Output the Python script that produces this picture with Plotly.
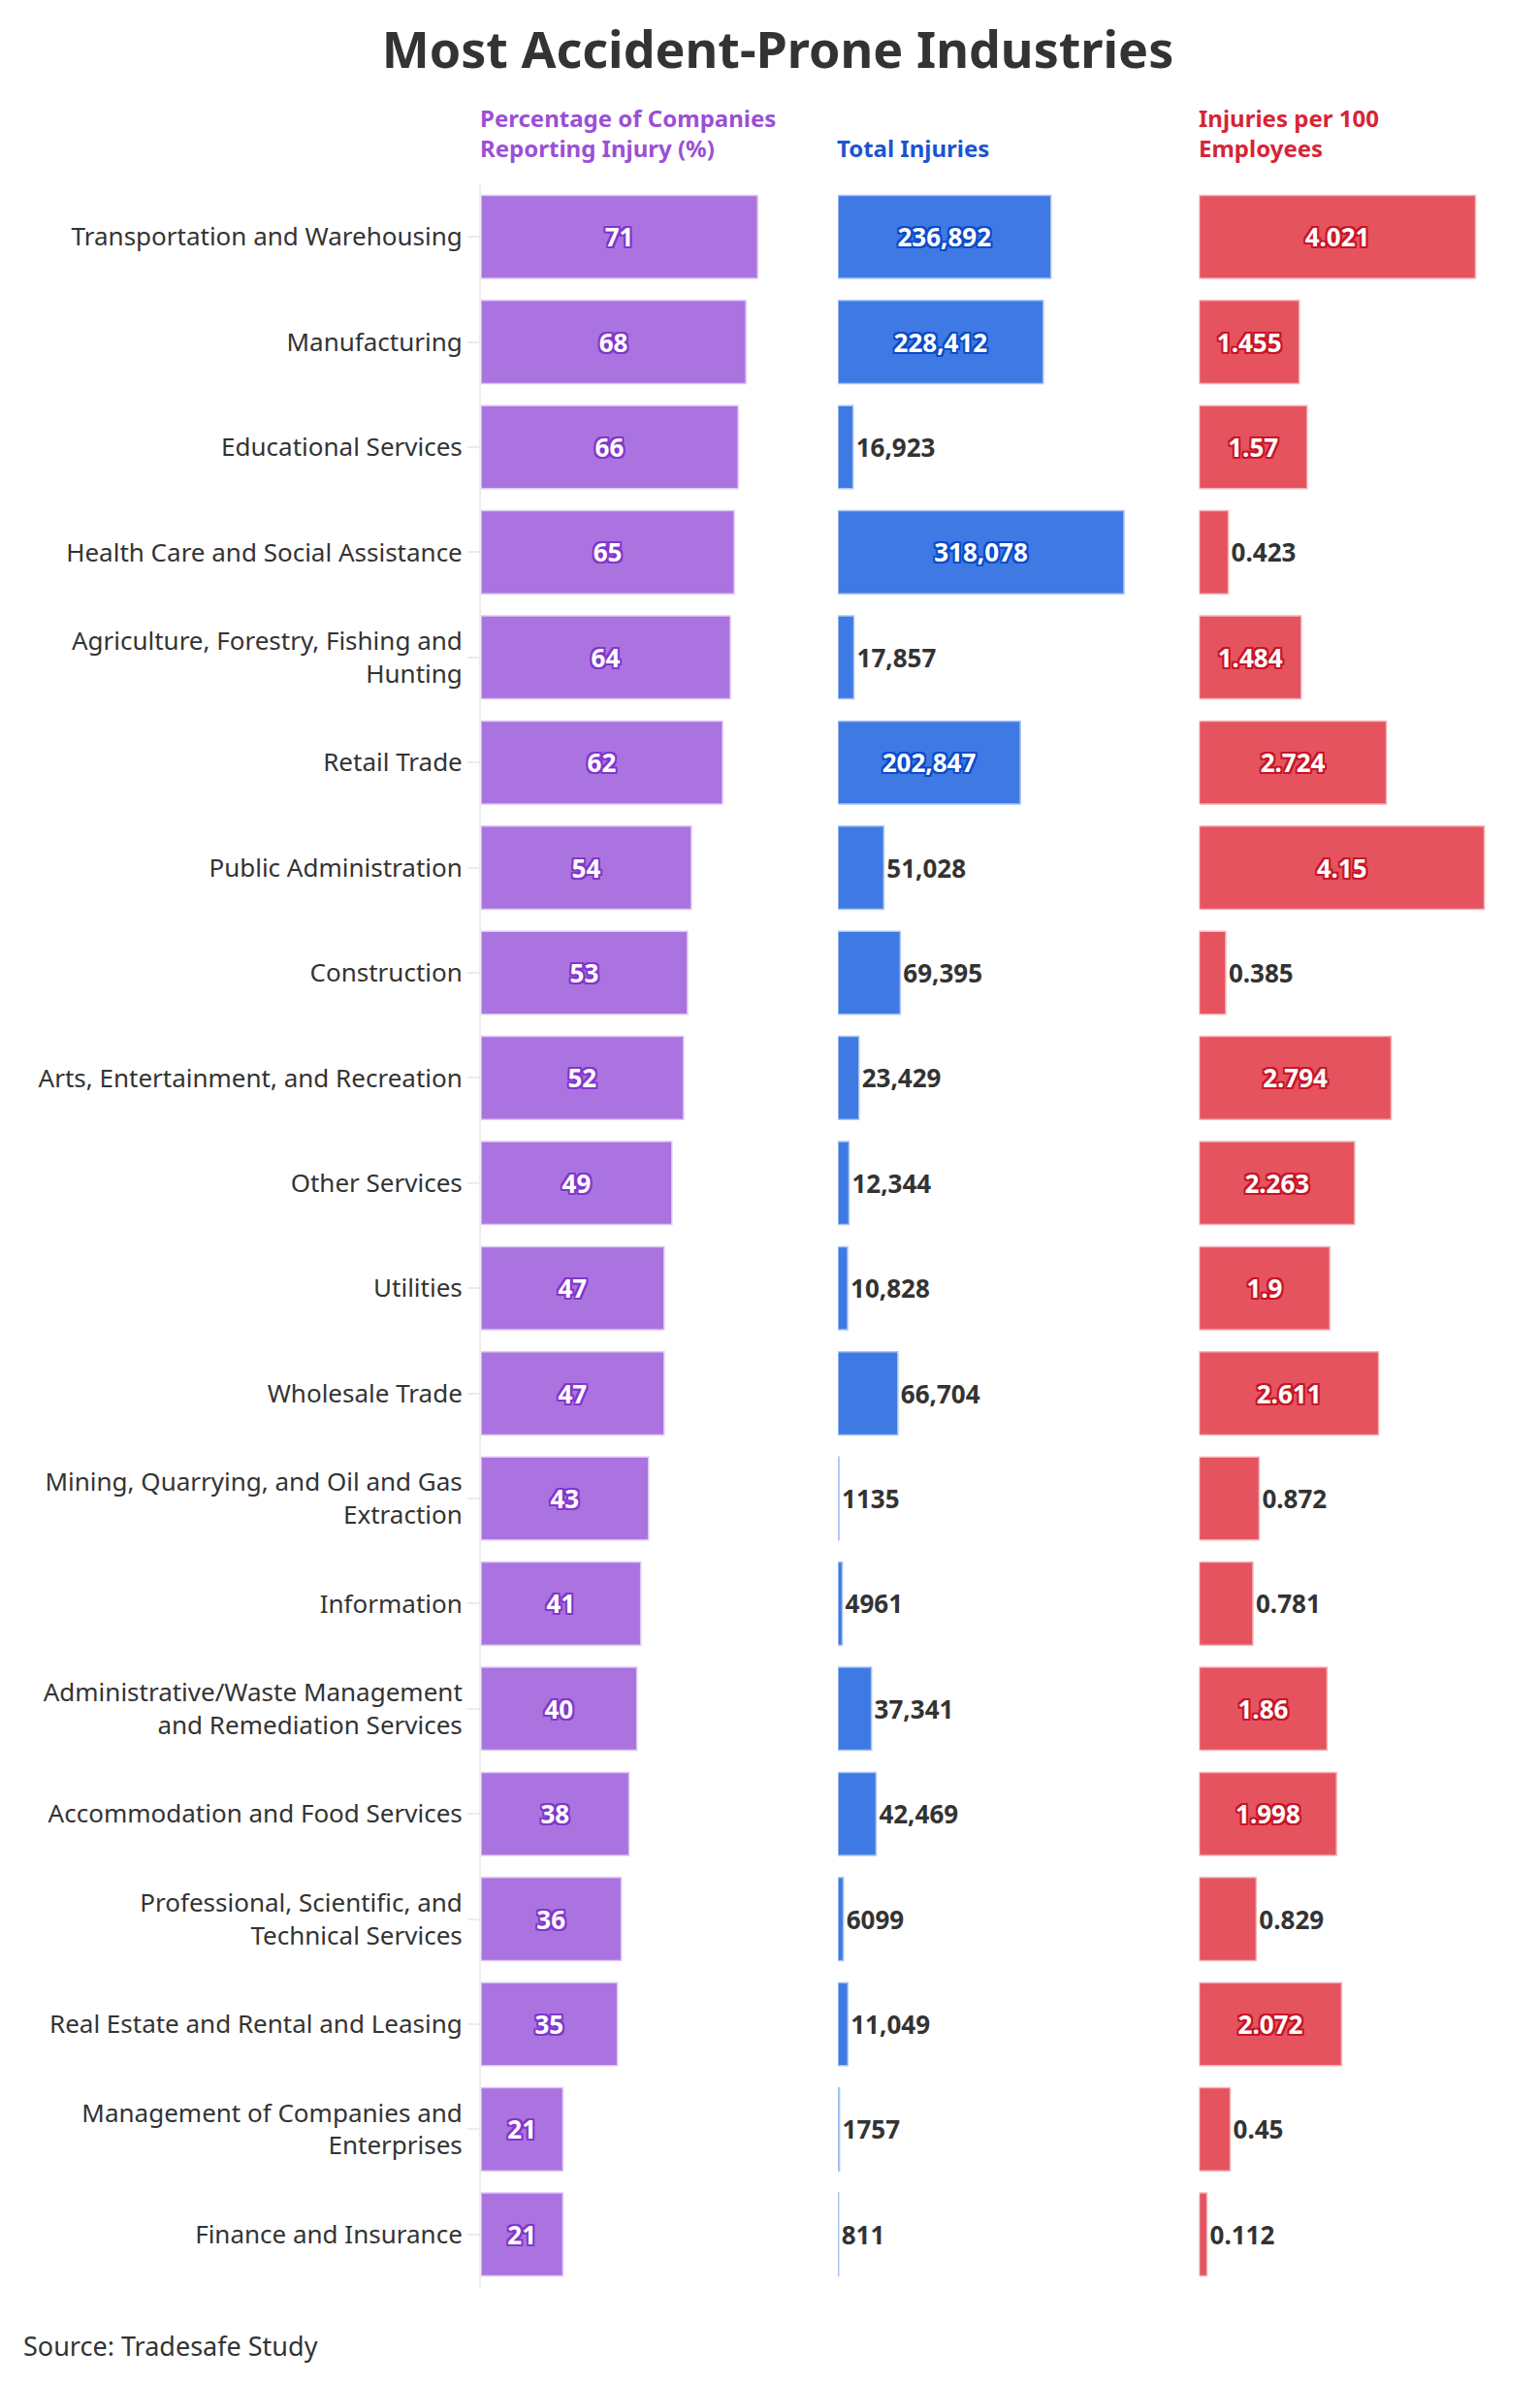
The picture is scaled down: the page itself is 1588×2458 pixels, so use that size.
import plotly.graph_objects as go

# data
industries = [
    "Transportation and Warehousing",
    "Manufacturing",
    "Educational Services",
    "Health Care and Social Assistance",
    "Agriculture, Forestry, Fishing and<br>Hunting",
    "Retail Trade",
    "Public Administration",
    "Construction",
    "Arts, Entertainment, and Recreation",
    "Other Services",
    "Utilities",
    "Wholesale Trade",
    "Mining, Quarrying, and Oil and Gas<br>Extraction",
    "Information",
    "Administrative/Waste Management<br>and Remediation Services",
    "Accommodation and Food Services",
    "Professional, Scientific, and<br>Technical Services",
    "Real Estate and Rental and Leasing",
    "Management of Companies and<br>Enterprises",
    "Finance and Insurance",
]
pct_reporting = [71, 68, 66, 65, 64, 62, 54, 53, 52, 49, 47, 47, 43, 41, 40, 38, 36, 35, 21, 21]
total_injuries = [236892, 228412, 16923, 318078, 17857, 202847, 51028, 69395, 23429, 12344,
                  10828, 66704, 1135, 4961, 37341, 42469, 6099, 11049, 1757, 811]
per_100 = [4.021, 1.455, 1.57, 0.423, 1.484, 2.724, 4.15, 0.385, 2.794, 2.263,
           1.9, 2.611, 0.872, 0.781, 1.86, 1.998, 0.829, 2.072, 0.45, 0.112]

headers = ["Percentage of Companies<br>Reporting Injury (%)", "Total Injuries",
           "Injuries per 100<br>Employees"]

FONT = "Noto Sans"
DARK = "#333333"
PANEL_PX = 300  # approx pixel width of each panel

# colours per panel: bar, bar edge, text outline, header
styles = [
    dict(bar="#ab73e0", edge="#dcc6f3", outline="#8236cc", head="#9b4fd6"),
    dict(bar="#3f79e4", edge="#aac5f3", outline="#0b4cc8", head="#1a55cf"),
    dict(bar="#e5535f", edge="#f4b3b8", outline="#c81525", head="#d62536"),
]

domains = [[0, 0.2896], [0.3552, 0.6448], [0.7149, 1.0]]
ranges = [[0, 74.7], [0, 323500], [0, 4.17]]


def fmt_injuries(v):
    return f"{v:,}" if v >= 10000 else str(v)


def outline(c):
    return (f"-2px -2px 0 {c}, 2px -2px 0 {c}, -2px 2px 0 {c}, 2px 2px 0 {c}, "
            f"0 2px 0 {c}, 0 -2px 0 {c}, 2px 0 0 {c}, -2px 0 0 {c}")


def text_positions(vals, labels, rng):
    # label goes inside only when the bar is long enough to hold it
    out = []
    for v, lab in zip(vals, labels):
        bar_px = v / rng[1] * PANEL_PX
        out.append("inside" if bar_px > len(lab) * 14 + 16 else "outside")
    return out


series = [
    (pct_reporting, [str(v) for v in pct_reporting], "x"),
    (total_injuries, [fmt_injuries(v) for v in total_injuries], "x2"),
    (per_100, [str(v) for v in per_100], "x3"),
]

fig = go.Figure()
for (vals, labels, xa), st, rng in zip(series, styles, ranges):
    fig.add_trace(go.Bar(
        x=vals, y=industries, orientation="h", xaxis=xa, yaxis="y",
        marker=dict(color=st["bar"], line=dict(color=st["edge"], width=1.5)),
        text=labels, textposition=text_positions(vals, labels, rng),
        insidetextanchor="middle", textangle=0,
        constraintext="none", cliponaxis=False,
        insidetextfont=dict(family=FONT, size=26, color="white", weight="bold",
                            shadow=outline(st["outline"])),
        outsidetextfont=dict(family=FONT, size=26, color=DARK, weight="bold"),
        showlegend=False,
    ))

hidden = dict(showticklabels=False, showgrid=False, zeroline=False, showline=False, ticks="")

fig.update_layout(
    width=1588, height=2458,
    paper_bgcolor="white", plot_bgcolor="white",
    margin=dict(l=488, r=64, t=182, b=108),
    bargap=0.21,
    font=dict(family=FONT, size=26, color=DARK),
    title=dict(text="<b>Most Accident-Prone Industries</b>", x=0.5, xanchor="center",
               y=0.982, yanchor="middle", font=dict(family=FONT, size=52, color=DARK)),
    xaxis=dict(domain=domains[0], range=ranges[0], anchor="y", **hidden),
    xaxis2=dict(domain=domains[1], range=ranges[1], anchor="y", **hidden),
    xaxis3=dict(domain=domains[2], range=ranges[2], anchor="y", **hidden),
    yaxis=dict(autorange="reversed", showline=True, linecolor="#ececec", linewidth=2,
               ticks="outside", ticklen=12, tickcolor="#ececec", tickwidth=2,
               showgrid=False, tickfont=dict(family=FONT, size=26, color=DARK)),
)

for i, (txt, st) in enumerate(zip(headers, styles)):
    xref = "x domain" if i == 0 else f"x{i + 1} domain"
    fig.add_annotation(text=f"<b>{txt}</b>", xref=xref, yref="paper", x=0, y=1,
                       xanchor="left", yanchor="bottom", yshift=19, xshift=-3,
                       align="left", showarrow=False,
                       font=dict(family=FONT, size=24, color=st["head"]))

fig.add_annotation(text="Source: Tradesafe Study", xref="paper", yref="paper",
                   x=-0.4575, y=-0.028, xanchor="left", yanchor="middle",
                   showarrow=False, font=dict(family=FONT, size=27, color=DARK))

fig.write_html("out.html")
